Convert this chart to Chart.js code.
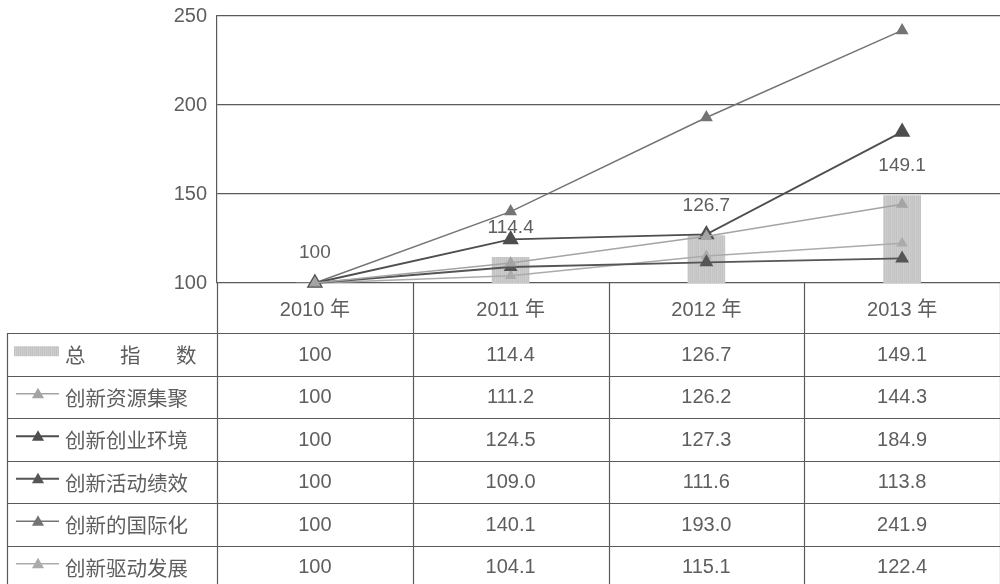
<!DOCTYPE html>
<html>
<head>
<meta charset="utf-8">
<script src="https://cdn.jsdelivr.net/npm/chart.js@4.4.1/dist/chart.umd.min.js"></script>
<style>
  html, body { margin: 0; padding: 0; background: #fff; overflow: hidden; }
  #wrap { width: 1000px; height: 584px; position: relative; }
</style>
</head>
<body>
<div id="wrap"><canvas id="c" width="1000" height="584"></canvas></div>
<script>
// ---- data ----
const years = ['2010 年', '2011 年', '2012 年', '2013 年'];
const totalIndex = [100, 114.4, 126.7, 149.1];          // 总指数
const resourceAgg = [100, 111.2, 126.2, 144.3];         // 创新资源集聚
const entrepreneurEnv = [100, 124.5, 127.3, 184.9];     // 创新创业环境
const activityPerf = [100, 109.0, 111.6, 113.8];        // 创新活动绩效
const internationalization = [100, 140.1, 193.0, 241.9];// 创新的国际化
const drivenDev = [100, 104.1, 115.1, 122.4];           // 创新驱动发展
const yTicks = [100, 150, 200, 250];
const seriesNames = ['总指数', '创新资源集聚', '创新创业环境', '创新活动绩效', '创新的国际化', '创新驱动发展'];

const FONT = "'Liberation Sans', Arial, 'Noto Sans CJK SC', sans-serif";
const CJK = "'Noto Sans CJK SC', 'Liberation Sans', sans-serif";
const TEXT = '#5e5e5e';
const RULE = '#5a5a5a';

// light grey streaky fill for the total-index bars
function barFill() {
  const p = document.createElement('canvas');
  p.width = 6; p.height = 4;
  const g = p.getContext('2d');
  const cols = ['#c4c4c4', '#cbcbcb', '#c1c1c1', '#cfcfcf', '#c6c6c6', '#c9c9c9'];
  cols.forEach((c, i) => { g.fillStyle = c; g.fillRect(i, 0, 1, 4); });
  return g.createPattern(p, 'repeat');
}

// value labels above the bars
const barLabels = {
  id: 'barLabels',
  afterDatasetDraw(chart, args) {
    if (args.index !== 0) return;
    const ctx = chart.ctx;
    const meta = args.meta;
    ctx.save();
    ctx.font = '19px ' + FONT;
    ctx.fillStyle = TEXT;
    ctx.textAlign = 'center';
    ctx.textBaseline = 'middle';
    meta.data.forEach((bar, i) => {
      const v = totalIndex[i];
      ctx.fillText(v === 100 ? '100' : v.toFixed(1), bar.x, bar.y - 30);
    });
    ctx.restore();
  }
};

function triangle(ctx, x, y, r, color) {
  ctx.beginPath();
  for (let k = 0; k < 3; k++) {
    const a = k * 2 * Math.PI / 3;
    const px = x + Math.sin(a) * r, py = y - Math.cos(a) * r;
    k ? ctx.lineTo(px, py) : ctx.moveTo(px, py);
  }
  ctx.closePath();
  ctx.fillStyle = color;
  ctx.fill();
}

// data table under the plot, sharing the category columns
const dataTable = {
  id: 'dataTable',
  afterDraw(chart) {
    const { ctx, chartArea: a, scales: { x } } = chart;
    const H = chart.height;
    const left = 7;
    const rowTop = 333, rowH = 42.5;
    const n = years.length;
    const colW = (a.right - a.left) / n;
    ctx.save();
    ctx.strokeStyle = RULE;
    ctx.lineWidth = 1.2;
    // vertical rules
    ctx.beginPath();
    for (let i = 0; i <= n; i++) {
      const xx = Math.round(a.left + colW * i) + 0.5;
      ctx.moveTo(xx, a.bottom);
      ctx.lineTo(xx, H);
    }
    ctx.moveTo(left + 0.5, rowTop);
    ctx.lineTo(left + 0.5, H);
    // horizontal rules
    for (let r = 0; r < 6; r++) {
      const yy = Math.round(rowTop + rowH * r) + 0.5;
      ctx.moveTo(left, yy);
      ctx.lineTo(a.right, yy);
    }
    ctx.stroke();

    const rows = [totalIndex, resourceAgg, entrepreneurEnv, activityPerf, internationalization, drivenDev];
    ctx.textBaseline = 'middle';
    rows.forEach((vals, r) => {
      const cy = rowTop + rowH * r + rowH / 2 + 1;
      // values
      ctx.font = '20px ' + FONT;
      ctx.fillStyle = TEXT;
      ctx.textAlign = 'center';
      vals.forEach((v, i) => {
        const txt = i === 0 ? String(v) : v.toFixed(1);
        ctx.fillText(txt, x.getPixelForValue(i), cy);
      });
      // legend key
      const ds = chart.data.datasets[r];
      if (r === 0) {
        ctx.fillStyle = ds.backgroundColor;
        ctx.fillRect(14, cy - 9, 45, 10);
      } else {
        ctx.strokeStyle = ds.borderColor;
        ctx.lineWidth = ds.borderWidth;
        ctx.beginPath();
        ctx.moveTo(16, cy - 4);
        ctx.lineTo(59, cy - 4);
        ctx.stroke();
        triangle(ctx, 38, cy - 3, 7, ds.pointBackgroundColor);
      }
      // series name
      ctx.font = '20.5px ' + CJK;
      ctx.fillStyle = TEXT;
      ctx.textAlign = 'left';
      if (r === 0) {
        const chars = Array.from(seriesNames[0]);
        const xs = [65, 120, 176];
        chars.forEach((ch, k) => ctx.fillText(ch, xs[k], cy));
      } else {
        ctx.fillText(seriesNames[r], 65, cy);
      }
    });
    ctx.restore();
  }
};

function lineSet(label, data, color, width, radius) {
  return {
    type: 'line', label, data,
    borderColor: color, borderWidth: width,
    pointStyle: 'triangle', pointRadius: radius,
    pointBackgroundColor: color, pointBorderColor: color, pointBorderWidth: 0,
    tension: 0, clip: false, order: 1
  };
}

new Chart(document.getElementById('c'), {
  data: {
    labels: years,
    datasets: [
      { type: 'bar', label: seriesNames[0], data: totalIndex, backgroundColor: barFill(),
        barThickness: 37, order: 10 },
      lineSet(seriesNames[1], resourceAgg, '#a4a4a4', 1.5, 7),
      lineSet(seriesNames[2], entrepreneurEnv, '#4e4e4e', 1.8, 9.5),
      lineSet(seriesNames[3], activityPerf, '#555555', 1.8, 8),
      lineSet(seriesNames[4], internationalization, '#747474', 1.5, 7.5),
      lineSet(seriesNames[5], drivenDev, '#ababab', 1.5, 6.5)
    ]
  },
  options: {
    responsive: false,
    animation: false,
    layout: { autoPadding: false, padding: { top: 16, right: 0, bottom: 0, left: 0 } },
    plugins: { legend: { display: false }, tooltip: { enabled: false } },
    scales: {
      x: {
        type: 'category', offset: true,
        grid: { display: false, drawTicks: false },
        border: { display: false },
        ticks: { padding: 15, color: TEXT, font: { size: 20, family: FONT } },
        afterFit(s) { s.height = 301; s.paddingLeft = 0; s.paddingRight = 0; }
      },
      y: {
        min: 100, max: 250,
        afterBuildTicks(s) { s.ticks = yTicks.map(v => ({ value: v })); },
        grid: { color: RULE, lineWidth: 1.2, drawTicks: false },
        border: { display: true, color: RULE, width: 1.2 },
        ticks: { padding: 10, color: TEXT, font: { size: 20, family: FONT } },
        afterFit(s) { s.width = 217; s.paddingTop = 0; s.paddingBottom = 0; }
      }
    }
  },
  plugins: [barLabels, dataTable]
});
</script>
</body>
</html>
